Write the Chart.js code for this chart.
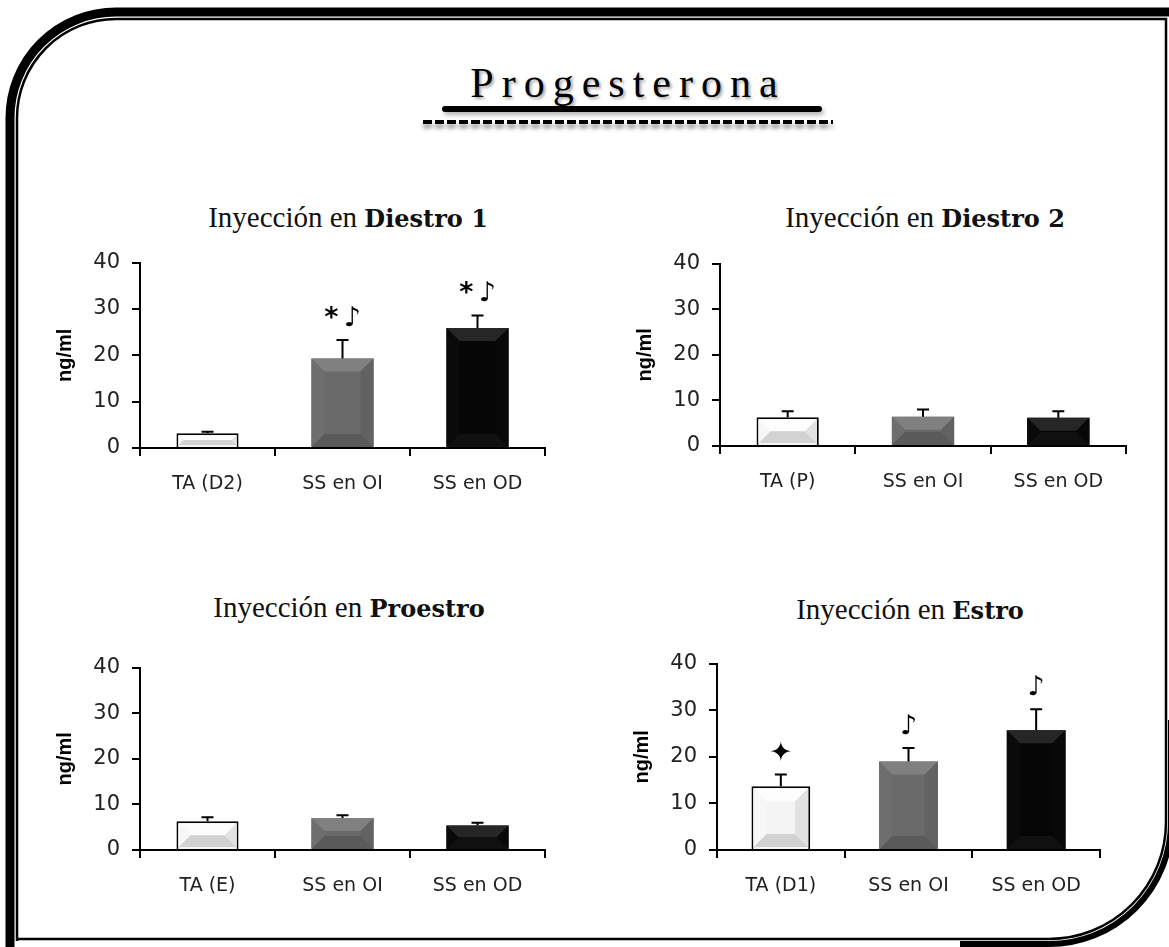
<!DOCTYPE html>
<html>
<head>
<meta charset="utf-8">
<script src="https://cdn.jsdelivr.net/npm/chart.js@4.4.1/dist/chart.umd.min.js"></script>
<style>
  body { margin:0; background:#fff; width:1169px; height:947px; position:relative; overflow:hidden; }
  canvas { position:absolute; }
  .titol { position:absolute; width:440px; text-align:center; font-family:"Liberation Serif", serif; font-size:29px; color:#111; line-height:34px; white-space:nowrap; }
  .titol b { font-family:"DejaVu Serif", serif; font-size:24px; }
  #principal { position:absolute; left:428px; top:58px; width:400px; text-align:center; font-family:"Liberation Serif", serif; font-size:42px; letter-spacing:8px; color:#000; text-shadow:2px 2px 3px rgba(0,0,0,0.35); line-height:50px; }
  #ratlla { position:absolute; left:442px; top:106px; width:380px; height:6px; border-radius:3px; background:#000; box-shadow:2px 3px 4px rgba(0,0,0,0.3); }
  #puntets { position:absolute; left:423px; top:120px; width:410px; height:4px; background:repeating-linear-gradient(90deg,#000 0 9px,transparent 9px 12px); filter:drop-shadow(0 4px 2px rgba(0,0,0,0.45)); }
</style>
</head>
<body>
<svg width="1169" height="947" style="position:absolute;left:0;top:0">
  <path d="M10,947 L10,118 A106,106 0 0 1 116,12 L1169,12" fill="none" stroke="#000" stroke-width="9"/>
  <path d="M17,941 L17,118 A99,99 0 0 1 116,19 L1166,19 L1166,822 A117,117 0 0 1 1049,939 L17,939" fill="none" stroke="#000" stroke-width="2.5"/>
  <path d="M1171,720 L1171,822 A122,122 0 0 1 1049,944 L960,944" fill="none" stroke="#000" stroke-width="6"/>
</svg>

<div id="principal">Progesterona</div>
<div id="ratlla"></div>
<div id="puntets"></div>

<div class="titol" style="left:128px;top:200px">Inyección en <b>Diestro 1</b></div>
<div class="titol" style="left:705px;top:200px">Inyección en <b>Diestro 2</b></div>
<div class="titol" style="left:129px;top:590px">Inyección en <b>Proestro</b></div>
<div class="titol" style="left:690px;top:592px">Inyección en <b>Estro</b></div>

<canvas id="grafic1" width="520" height="272" style="left:40px;top:238px"></canvas>
<canvas id="grafic2" width="520" height="269" style="left:620px;top:239px"></canvas>
<canvas id="grafic3" width="520" height="269" style="left:40px;top:643px"></canvas>
<canvas id="grafic4" width="500" height="273" style="left:617px;top:639px"></canvas>

<script>
const yTicks = [0, 10, 20, 30, 40];

const categories1 = ["TA (D2)", "SS en OI", "SS en OD"];
const valors1 = [3.2, 19.3, 25.9];
const errors1 = [0.3, 4.0, 2.7];
const marques1 = ["", "*\u2009\u266A", "*\u2009\u266A"];

const categories2 = ["TA (P)", "SS en OI", "SS en OD"];
const valors2 = [6.3, 6.4, 6.2];
const errors2 = [1.3, 1.6, 1.4];
const marques2 = ["", "", ""];

const categories3 = ["TA (E)", "SS en OI", "SS en OD"];
const valors3 = [6.3, 7.0, 5.4];
const errors3 = [0.9, 0.6, 0.6];
const marques3 = ["", "", ""];

const categories4 = ["TA (D1)", "SS en OI", "SS en OD"];
const valors4 = [13.7, 19.0, 25.7];
const errors4 = [2.5, 2.9, 4.5];
const marques4 = ["\u2726", "\u266A", "\u266A"];

const colors = ['#f4f4f4', '#6a6a6a', '#060606'];
const tons = [
  {top:'#fdfdfd', bottom:'#d2d2d2', left:'#f7f7f7', right:'#e2e2e2'},
  {top:'#808080', bottom:'#5a5a5a', left:'#6e6e6e', right:'#626262'},
  {top:'#262626', bottom:'#101010', left:'#0a0a0a', right:'#080808'}
];

function poligon(ctx, punts, color) {
  ctx.fillStyle = color;
  ctx.beginPath();
  ctx.moveTo(punts[0][0], punts[0][1]);
  for (let k = 1; k < punts.length; k++) ctx.lineTo(punts[k][0], punts[k][1]);
  ctx.closePath();
  ctx.fill();
}

// bisell de les barres, barres d'error i marques de significacio
const decoracio = {
  id: 'decoracio',
  afterDatasetsDraw(chart, args, opts) {
    const ctx = chart.ctx;
    const ds = chart.data.datasets[0];
    const escalaY = chart.scales.y;
    chart.getDatasetMeta(0).data.forEach((bar, i) => {
      const p = bar.getProps(['x', 'y', 'base', 'width'], true);
      const bw = ds.borderWidth[i];
      const l = p.x - p.width / 2 + bw, r = p.x + p.width / 2 - bw;
      const t = p.y + bw, b = p.base - bw;
      const d = Math.max(0, Math.min(13, (b - t) / 2));
      ctx.save();
      poligon(ctx, [[l, t], [r, t], [r - d, t + d], [l + d, t + d]], tons[i].top);
      poligon(ctx, [[l, b], [r, b], [r - d, b - d], [l + d, b - d]], tons[i].bottom);
      poligon(ctx, [[l, t], [l + d, t + d], [l + d, b - d], [l, b]], tons[i].left);
      poligon(ctx, [[r, t], [r - d, t + d], [r - d, b - d], [r, b]], tons[i].right);

      const yTop = escalaY.getPixelForValue(ds.data[i] + opts.errors[i]);
      ctx.strokeStyle = '#000';
      ctx.lineWidth = 2;
      ctx.beginPath();
      ctx.moveTo(p.x, p.y);
      ctx.lineTo(p.x, yTop);
      ctx.moveTo(p.x - 6, yTop);
      ctx.lineTo(p.x + 6, yTop);
      ctx.stroke();

      if (opts.marques[i]) {
        ctx.fillStyle = '#000';
        ctx.font = 'bold 27px "DejaVu Sans"';
        ctx.textAlign = 'center';
        ctx.textBaseline = 'middle';
        ctx.fillText(opts.marques[i], p.x, yTop - 21);
      }
      ctx.restore();
    });
  }
};

function grafic(id, categories, valors, errors, marques, padDreta) {
  const ctx = document.getElementById(id).getContext('2d');
  return new Chart(ctx, {
    type: 'bar',
    data: {
      labels: categories,
      datasets: [{
        data: valors,
        backgroundColor: colors,
        borderColor: '#000',
        borderWidth: [2, 0, 0],
        borderSkipped: 'bottom',
        barPercentage: 0.46,
        categoryPercentage: 1
      }]
    },
    options: {
      responsive: false,
      animation: false,
      devicePixelRatio: 1,
      layout: { padding: { top: 0, right: padDreta, left: 0, bottom: 0 } },
      plugins: {
        legend: { display: false },
        tooltip: { enabled: false },
        decoracio: { errors: errors, marques: marques }
      },
      scales: {
        x: {
          offset: true,
          afterFit: s => { s.height = 62; },
          border: { color: '#000', width: 2 },
          grid: { offset: true, drawOnChartArea: false, drawTicks: true, tickLength: 8, color: '#000', lineWidth: 2 },
          ticks: { color: '#222', padding: 17, font: { family: 'DejaVu Sans', size: 19 } }
        },
        y: {
          min: 0,
          max: 40,
          afterFit: s => { s.width = 100; },
          afterBuildTicks: s => { s.ticks = yTicks.map(v => ({ value: v })); },
          border: { color: '#000', width: 2 },
          grid: { drawOnChartArea: false, drawTicks: true, tickLength: 8, color: '#000', lineWidth: 2 },
          ticks: { color: '#222', padding: 12, font: { family: 'DejaVu Sans', size: 21 } },
          title: {
            display: true,
            text: 'ng/ml',
            color: '#000',
            padding: { top: 13, bottom: 0 },
            font: { family: 'Liberation Sans', size: 20, weight: 'bold' }
          }
        }
      }
    },
    plugins: [decoracio]
  });
}

grafic('grafic1', categories1, valors1, errors1, marques1, 15);
grafic('grafic2', categories2, valors2, errors2, marques2, 14);
grafic('grafic3', categories3, valors3, errors3, marques3, 15);
grafic('grafic4', categories4, valors4, errors4, marques4, 17);
</script>
</body>
</html>
